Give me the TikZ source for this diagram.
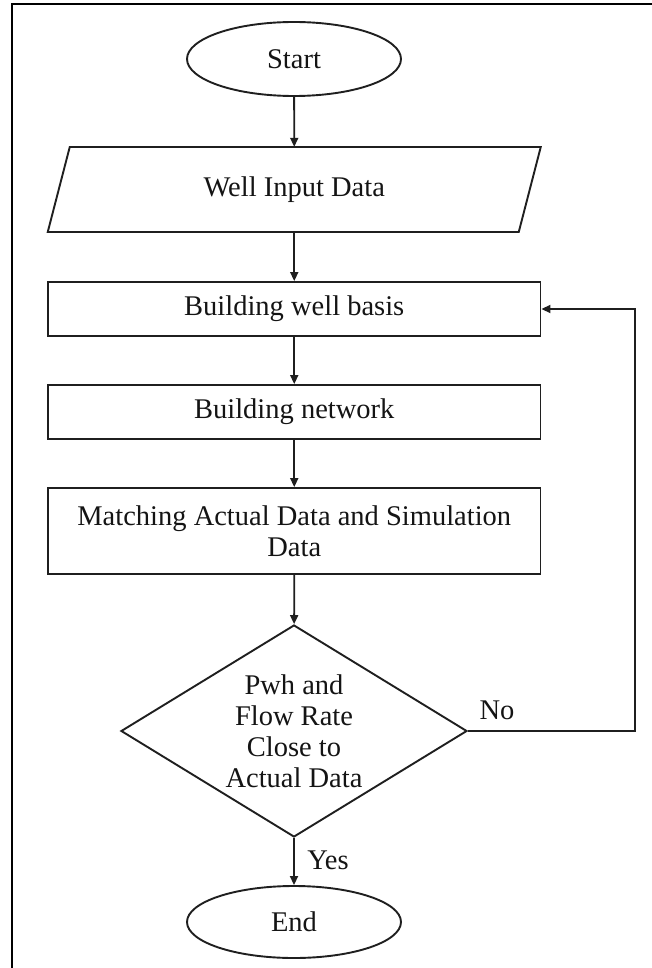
\documentclass[tikz,border=0pt]{standalone}
\usepackage{fontspec}
\setmainfont{Liberation Serif}
\usetikzlibrary{shapes.geometric,arrows.meta,calc}
\begin{document}
\begin{tikzpicture}[x=1pt,y=-1pt,
  every node/.style={font=\fontsize{28.5}{31}\selectfont, text=black!92},
  line/.style={draw=black!88, line width=1.9pt},
  terminal/.style={line, ellipse, minimum width=214pt, minimum height=74pt, inner sep=0pt},
  procbox/.style={line, rectangle, minimum width=492.5pt, inner sep=0pt, align=center},
  decision/.style={line, diamond, minimum width=346pt, minimum height=212pt, inner sep=0pt},
  arr/.style={draw=black!88, line width=1.8pt, -{Triangle[length=9pt,width=8pt]}},
  frameline/.style={draw=black, line width=2pt}]
\useasboundingbox (0,0) rectangle (652,968);

% frame (top and left edges)
\draw[frameline] (12,968) -- (12,4.5) -- (652,4.5);

% start terminal
\node[terminal] (start) at (294,59) {Start};

% input parallelogram: text node plus the slanted outline
\node[minimum width=492pt, minimum height=85pt, inner sep=0pt] (input) at (294.25,189.5) {Well Input Data};
\draw[line, line join=miter]
  ($(input.center)+(-246.5,42.5)$) -- ($(input.center)+(-224.5,-42.5)$)
  -- ($(input.center)+(246.5,-42.5)$) -- ($(input.center)+(224.5,42.5)$) -- cycle;

% process steps
\node[procbox, minimum height=54pt] (basis) at (294.25,309) {Building well basis};
\node[procbox, minimum height=54pt] (network) at (294.25,412) {Building network};
\node[procbox, minimum height=86pt] (match) at (294.25,531) {Matching Actual Data and Simulation\\Data};

% decision
\node[decision] (dec) at (294,731) {};
\node[align=center, inner sep=0pt] (dectext) at (dec.center) {Pwh and\\Flow Rate\\Close to\\Actual Data};

% end terminal
\node[terminal, minimum height=72pt] (end) at (294,922) {End};

% connectors
\draw[arr] (start) -- (input.north);
\draw[arr] (input.south) -- (basis);
\draw[arr] (basis) -- (network);
\draw[arr] (network) -- (match);
\draw[arr] (match) -- (dec);
\draw[arr] (dec) -- (end);

% feedback loop
\coordinate (loopx) at (635,731);
\draw[arr] (dec.east) -- (loopx) |- (basis.east);

% branch labels
\node (no) at (497,710) {No};
\node (yes) at (328,860) {Yes};
\end{tikzpicture}
\end{document}
